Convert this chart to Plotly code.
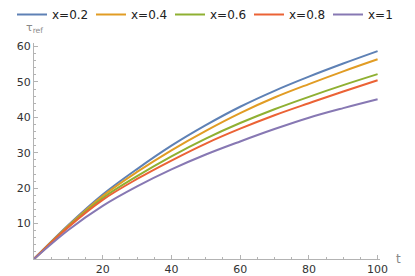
import plotly.graph_objects as go

t_vals = [0, 10, 20, 30, 40, 50, 60, 70, 80, 90, 100]
series_names = ["x=0.2", "x=0.4", "x=0.6", "x=0.8", "x=1"]
tau_x02 = [0, 9.6, 18.2, 25.4, 32.0, 37.8, 43.0, 47.5, 51.5, 55.2, 58.7]
tau_x04 = [0, 9.4, 17.8, 24.6, 30.7, 36.2, 41.2, 45.6, 49.4, 53.0, 56.4]
tau_x06 = [0, 9.2, 17.2, 23.4, 29.0, 34.0, 38.4, 42.3, 45.8, 49.1, 52.2]
tau_x08 = [0, 9.0, 16.7, 22.6, 27.8, 32.6, 36.8, 40.6, 44.0, 47.3, 50.5]
tau_x10 = [0, 8.2, 15.0, 20.5, 25.3, 29.5, 33.2, 36.7, 39.9, 42.6, 45.1]
x_ticks = [20, 40, 60, 80, 100]
y_ticks = [10, 20, 30, 40, 50, 60]

colors = ["#5e81b5", "#e19c24", "#8fb032", "#eb6235", "#8778b3"]
all_series = [tau_x02, tau_x04, tau_x06, tau_x08, tau_x10]
legend_ids = ["legend", "legend", "legend", "legend2", "legend2"]

fig = go.Figure()
for name, ys, c, lg in zip(series_names, all_series, colors, legend_ids):
    fig.add_trace(go.Scatter(x=t_vals, y=ys, mode="lines", name=name, legend=lg,
                             line=dict(color=c, width=2, shape="spline", smoothing=1.0)))

axis_color = "#b3b3b3"
leg_common = dict(orientation="h", xanchor="left", xref="container",
                  y=1.0, yanchor="top", yref="container",
                  font=dict(family="DejaVu Sans", size=12, color="#222222"),
                  entrywidth=34, entrywidthmode="pixels", itemwidth=30,
                  bgcolor="rgba(0,0,0,0)")
fig.update_layout(
    width=415, height=276,
    margin=dict(l=34, r=35, t=43, b=17, autoexpand=False),
    plot_bgcolor="white", paper_bgcolor="white",
    font=dict(family="DejaVu Sans", size=11, color="#333333"),
    legend=dict(x=12 / 415, **leg_common),
    legend2=dict(x=249 / 415, **leg_common),
    xaxis=dict(range=[0, 100.7], showgrid=False, zeroline=False, automargin=False,
               showline=True, linecolor=axis_color, linewidth=1,
               tickvals=x_ticks, ticks="inside", ticklen=4, tickcolor=axis_color,
               minor=dict(ticks="inside", ticklen=2, dtick=5, tickcolor=axis_color),
               anchor="y", position=0),
    yaxis=dict(range=[0, 61], showgrid=False, zeroline=False, automargin=False,
               showline=True, linecolor=axis_color, linewidth=1,
               tickvals=y_ticks, ticks="inside", ticklen=4, tickcolor=axis_color,
               minor=dict(ticks="inside", ticklen=2, dtick=2, tickcolor=axis_color)),
)
fig.add_annotation(text="t", xref="paper", yref="paper", x=1.04, y=0.0,
                   xanchor="left", yanchor="middle", showarrow=False,
                   font=dict(family="DejaVu Sans", size=12, color="#888888"))
fig.add_annotation(text="τ<sub>ref</sub>", xref="paper", yref="paper", x=0, y=1.03,
                   xanchor="center", yanchor="bottom", showarrow=False,
                   font=dict(family="DejaVu Sans", size=11, color="#888888"))

fig.write_html("out.html", config={"displayModeBar": False},
               post_script="document.body.style.margin='0px';")
